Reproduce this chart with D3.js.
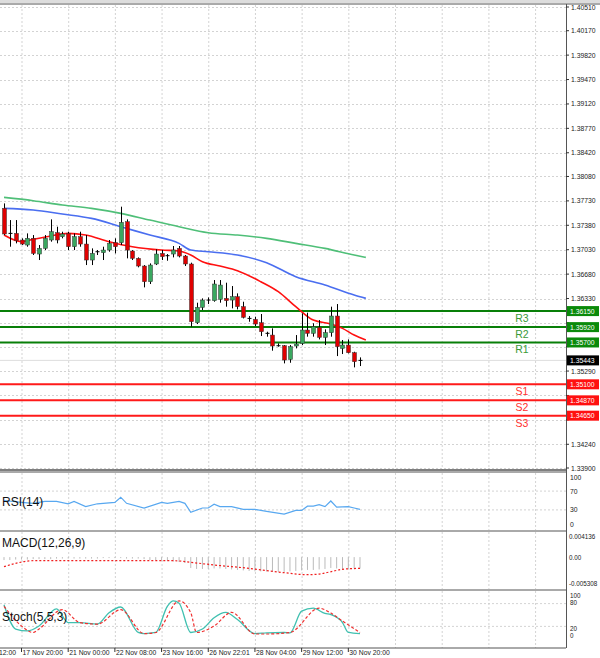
<!DOCTYPE html>
<html><head><meta charset="utf-8">
<script src="https://cdn.jsdelivr.net/npm/d3@7"></script>
<style>body{margin:0;background:#fff}svg{display:block;font-family:"Liberation Sans",Arial,sans-serif}</style>
</head><body>
<svg id="chart" width="600" height="658"></svg>
<script>
// candles: open, high, low, close
const opens  = [1.37623,1.37264,1.37264,1.37169,1.37097,1.37193,1.36968,1.37049,1.37169,1.37274,1.37216,1.37264,1.37073,1.37216,1.37111,1.36882,1.37001,1.36987,1.37025,1.37130,1.37130,1.37431,1.37011,1.36906,1.36796,1.36571,1.36825,1.36977,1.36939,1.36968,1.37049,1.36939,1.36825,1.35983,1.36203,1.36299,1.36299,1.36318,1.36332,1.36308,1.36356,1.36213,1.36045,1.36031,1.35983,1.35831,1.35806,1.35653,1.35653,1.35457,1.35649,1.35687,1.35878,1.35831,1.35916,1.35773,1.35840,1.36079,1.35615,1.35663,1.35553,1.35433];
const highs  = [1.37694,1.37455,1.37455,1.37193,1.37264,1.37240,1.37097,1.37240,1.37465,1.37360,1.37288,1.37288,1.37264,1.37288,1.37240,1.37049,1.37025,1.37073,1.37169,1.37193,1.37647,1.37465,1.37025,1.36920,1.36810,1.36834,1.37035,1.37025,1.36968,1.37083,1.37083,1.36954,1.36844,1.36270,1.36332,1.36346,1.36595,1.36595,1.36557,1.36509,1.36404,1.36284,1.36079,1.36069,1.36108,1.35854,1.35902,1.35687,1.35663,1.35663,1.35806,1.36117,1.36127,1.35975,1.36021,1.35888,1.36213,1.36251,1.35735,1.35744,1.35567,1.35486];
const lows   = [1.37240,1.37073,1.37121,1.37097,1.37073,1.36954,1.36882,1.37025,1.37145,1.37121,1.37193,1.37025,1.37025,1.37073,1.36810,1.36810,1.36954,1.36882,1.37001,1.36977,1.37097,1.36906,1.36882,1.36777,1.36490,1.36538,1.36810,1.36882,1.36872,1.36920,1.36920,1.36796,1.35926,1.35964,1.36165,1.36251,1.36284,1.36270,1.36213,1.36189,1.36174,1.36045,1.35997,1.35935,1.35792,1.35783,1.35582,1.35639,1.35400,1.35409,1.35615,1.35663,1.35783,1.35783,1.35744,1.35663,1.35783,1.35505,1.35534,1.35543,1.35343,1.35362];
const closes = [1.37255,1.37255,1.37159,1.37111,1.37193,1.36977,1.37049,1.37193,1.37288,1.37169,1.37255,1.37073,1.37216,1.37111,1.36882,1.36977,1.36995,1.37025,1.37121,1.37073,1.37422,1.37025,1.36906,1.36796,1.36571,1.36810,1.36968,1.36930,1.36944,1.37025,1.36939,1.36825,1.35997,1.36203,1.36308,1.36308,1.36538,1.36523,1.36299,1.36356,1.36213,1.36060,1.36040,1.35964,1.35854,1.35826,1.35649,1.35649,1.35448,1.35639,1.35677,1.35878,1.35831,1.35926,1.35773,1.35840,1.36079,1.35639,1.35663,1.35553,1.35424,1.35443];

// moving averages [candle index, price]
const maRed   = [[0,1.37240],[3,1.37145],[5,1.37178],[8,1.37226],[11,1.37264],[14,1.37240],[18,1.37145],[22,1.37073],[27,1.37025],[30,1.37011],[32,1.36954],[34,1.36858],[37,1.36796],[40,1.36729],[44,1.36571],[47,1.36428],[50,1.36213],[53,1.36021],[56,1.35964],[58,1.35902],[60,1.35806],[62,1.35735]];
const maBlue  = [[0,1.37623],[5,1.37599],[10,1.37541],[15,1.37479],[20,1.37360],[25,1.37240],[30,1.37121],[32,1.37025],[35,1.37001],[40,1.36954],[45,1.36844],[50,1.36643],[55,1.36523],[60,1.36380],[62,1.36332]];
const maGreen = [[0,1.37780],[5,1.37733],[10,1.37670],[15,1.37623],[20,1.37551],[25,1.37455],[30,1.37360],[35,1.37274],[40,1.37240],[45,1.37193],[50,1.37121],[55,1.37049],[60,1.36954],[62,1.36920]];

// pivot levels
const levelNames  = ["R3","R2","R1","S1","S2","S3"];
const levelValues = [1.36150,1.35920,1.35700,1.35100,1.34870,1.34650];
const lastPrice = 1.35443;

const priceTicks = [1.40510,1.40170,1.39820,1.39470,1.39120,1.38770,1.38420,1.38080,1.37730,1.37380,1.37030,1.36680,1.36330,1.35980,1.35640,1.35290,1.34940,1.34590,1.34240,1.33900];

// indicators [candle index, value]
const rsi = [[0,50],[3,46],[5,44],[7,48],[9,48],[11,43],[12,48],[14,37],[16,43],[19,46],[20,57],[21,44],[24,34],[27,46],[28,44],[30,48],[31,44],[32,25],[34,34],[35,34],[36,42],[37,37],[39,37],[41,31],[43,31],[45,27],[48,21],[50,29],[51,29],[52,38],[53,38],[54,41],[55,37],[56,49],[57,36],[59,37],[60,34],[61,31]];
const rsiTicks = [100,70,30,0];

const macdHist = [-0.0006,-0.0006,-0.0005,-0.0005,-0.0005,-0.0004,-0.0004,-0.0004,-0.0004,-0.0003,-0.0003,-0.0003,-0.0003,-0.0003,-0.0003,-0.0003,-0.0003,-0.0002,-0.0002,-0.0002,-0.0002,-0.0003,-0.0003,-0.0003,-0.0004,-0.0006,-0.0006,-0.0007,-0.0008,-0.0009,-0.0010,-0.0012,-0.0022,-0.0024,-0.0024,-0.0024,-0.0023,-0.0023,-0.0024,-0.0025,-0.0026,-0.0027,-0.0028,-0.0029,-0.0029,-0.0029,-0.0030,-0.0030,-0.0030,-0.0029,-0.0028,-0.0027,-0.0026,-0.0026,-0.0025,-0.0024,-0.0022,-0.0023,-0.0024,-0.0024,-0.0023,-0.0023];
const macdSignal = [[0,-0.00194],[2,-0.00126],[5,-0.00073],[19,-0.00073],[29,-0.00073],[32,-0.00106],[36,-0.0016],[42,-0.00228],[48,-0.00316],[52,-0.00357],[54,-0.00343],[56,-0.00296],[58,-0.00247],[61,-0.00228]];
const macdTicks = ["0.004136","0.00","-0.005308"];
const macdTickVals = [0.004136,0,-0.005308];

const stochMain = [[0,77],[2,13],[4,8],[6,21],[9,66],[11,30],[13,30],[16,26],[18,56],[20,71],[23,4],[24,1],[26,4],[28,73],[29,87],[30,81],[32,4],[34,13],[36,43],[38,57],[40,38],[43,1],[45,3],[48,4],[49,3],[51,60],[53,68],[55,54],[56,51],[58,30],[59,4],[61,1]];
const stochSignal = [[0,73],[3,21],[5,4],[6,13],[10,64],[13,30],[16,26],[20,64],[24,1],[26,4],[30,87],[32,56],[33,4],[36,21],[39,57],[43,0],[45,0],[49,4],[54,68],[56,55],[58,34],[61,4]];
const stochTicks = [100,80,20,0];

const timeLabels = ["12:00","17 Nov 20:00","21 Nov 00:00","22 Nov 08:00","23 Nov 16:00","26 Nov 22:01","28 Nov 04:00","29 Nov 12:00","30 Nov 20:00"];

// ---- layout ----
const svg = d3.select("#chart");
const W = 566;
const main = {top: 5, bottom: 470};
const pRsi = {top: 473, bottom: 530};
const pMacd = {top: 532, bottom: 589};
const pSto = {top: 591, bottom: 648};

const x = d3.scaleLinear().domain([0, 61]).range([4, 360]);
const y = d3.scaleLinear().domain([1.33900, 1.40510]).range([468, 7]);
const yRsi = d3.scaleLinear().domain([0, 100]).range([524, 477]);
const yMacd = d3.scaleLinear().domain([-0.005308, 0.004136]).range([583.3, 536.7]);
const ySto = d3.scaleLinear().domain([0, 100]).range([634, 596]);

const grid = svg.append("g").attr("stroke", "#c8c8c8").attr("stroke-dasharray", "2,2").attr("stroke-width", 0.8);
// vertical grid every 8 candles
const gridIdx = d3.range(-5, 100, 8).filter(i => x(i) > 0 && x(i) < W);
[main, pRsi, pMacd, pSto].forEach(p => {
  gridIdx.forEach(i => grid.append("line").attr("x1", x(i) + 0.5).attr("x2", x(i) + 0.5).attr("y1", p.top).attr("y2", p.bottom));
});
priceTicks.forEach(t => grid.append("line").attr("x1", 0).attr("x2", W).attr("y1", Math.round(y(t)) + 0.5).attr("y2", Math.round(y(t)) + 0.5));
[70, 30].forEach(t => grid.append("line").attr("x1", 0).attr("x2", W).attr("y1", yRsi(t)).attr("y2", yRsi(t)));
[80, 20].forEach(t => grid.append("line").attr("x1", 0).attr("x2", W).attr("y1", ySto(t)).attr("y2", ySto(t)));

// last price line
svg.append("line").attr("x1", 0).attr("x2", W).attr("y1", y(lastPrice)).attr("y2", y(lastPrice)).attr("stroke", "#ddd").attr("stroke-width", 1);

// levels
const lvl = svg.append("g");
levelValues.forEach((v, i) => {
  const res = levelNames[i][0] === "R";
  lvl.append("line").attr("x1", 0).attr("x2", W).attr("y1", y(v)).attr("y2", y(v))
    .attr("stroke", res ? "#087f08" : "#ff1a1a").attr("stroke-width", 2);
  lvl.append("text").attr("x", 522).attr("y", y(v) + 11).attr("text-anchor", "middle")
    .attr("font-size", 10.5).attr("fill", res ? "#3a9a3a" : "#ff3030").text(levelNames[i]);
});

// moving averages
const line = d3.line().x(d => x(d[0])).y(d => y(d[1])).curve(d3.curveMonotoneX);
[[maGreen, "#4fbf78"], [maBlue, "#4a6ef0"], [maRed, "#ff1010"]].forEach(([d, c]) => {
  svg.append("path").attr("d", line(d)).attr("fill", "none").attr("stroke", c).attr("stroke-width", 1.6);
});

// candles
const cg = svg.append("g");
opens.forEach((o, i) => {
  const c = closes[i], cx = Math.round(x(i)) + 0.5;
  cg.append("line").attr("x1", cx).attr("x2", cx).attr("y1", y(highs[i])).attr("y2", y(lows[i])).attr("stroke", "#000").attr("stroke-width", 1);
  const top = y(Math.max(o, c)), bot = y(Math.min(o, c));
  if (bot - top < 1.2) {
    cg.append("line").attr("x1", cx - 2).attr("x2", cx + 2).attr("y1", top).attr("y2", top).attr("stroke", "#000");
  } else {
    cg.append("rect").attr("x", cx - 2).attr("y", top).attr("width", 4).attr("height", bot - top)
      .attr("fill", c >= o ? "#3aa860" : "#e00000").attr("stroke", "#333").attr("stroke-width", 0.5);
  }
});

// RSI
svg.append("path").attr("d", d3.line().x(d => x(d[0])).y(d => yRsi(d[1]))(rsi)).attr("fill", "none").attr("stroke", "#58a8f0").attr("stroke-width", 1.2);
// MACD
macdHist.forEach((v, i) => svg.append("line").attr("x1", x(i)).attr("x2", x(i)).attr("y1", yMacd(0)).attr("y2", yMacd(v)).attr("stroke", "#bbb").attr("stroke-width", 1));
svg.append("path").attr("d", d3.line().x(d => x(d[0])).y(d => yMacd(d[1])).curve(d3.curveMonotoneX)(macdSignal)).attr("fill", "none").attr("stroke", "#f02020").attr("stroke-dasharray", "2,2").attr("stroke-width", 1.2);
// Stoch
const sLine = d3.line().x(d => x(d[0])).y(d => ySto(d[1])).curve(d3.curveMonotoneX);
svg.append("path").attr("d", sLine(stochMain)).attr("fill", "none").attr("stroke", "#40c0b0").attr("stroke-width", 1.3);
svg.append("path").attr("d", sLine(stochSignal)).attr("fill", "none").attr("stroke", "#f03030").attr("stroke-dasharray", "3,2").attr("stroke-width", 1.2);

// panel frames
const fr = svg.append("g").attr("stroke", "#555").attr("fill", "none");
fr.append("line").attr("x1", 0).attr("x2", 600).attr("y1", 4).attr("y2", 4).attr("stroke-width", 1);
[470, 472, 531, 590, 648].forEach(v => fr.append("line").attr("x1", 0).attr("x2", 566).attr("y1", v).attr("y2", v).attr("stroke-width", v === 470 ? 1.5 : 1));
fr.append("line").attr("x1", 566.5).attr("x2", 566.5).attr("y1", 4).attr("y2", 648);
svg.append("rect").attr("x", 0).attr("y", 0).attr("width", 600).attr("height", 3).attr("fill", "#ddd");

// price axis (labels under a level box are hidden by it, as in the terminal)
const ax = svg.append("g").attr("font-size", 6.8).attr("fill", "#222");
const boxVals = levelValues.concat([lastPrice]);
priceTicks.forEach(t => {
  ax.append("line").attr("x1", 566).attr("x2", 569).attr("y1", y(t)).attr("y2", y(t)).attr("stroke", "#333");
  if (boxVals.some(b => Math.abs(y(b) - y(t)) < 8)) return;
  ax.append("text").attr("x", 571).attr("y", y(t) + 2.5).text(t.toFixed(5));
});
const boxes = levelValues.map((v, i) => ({v, c: levelNames[i][0] === "R" ? "#0a8a0a" : "#ff1010"})).concat([{v: lastPrice, c: "#000"}]);
boxes.forEach(b => {
  ax.append("rect").attr("x", 567).attr("y", y(b.v) - 5).attr("width", 32).attr("height", 10).attr("fill", b.c);
  ax.append("text").attr("x", 570).attr("y", y(b.v) + 2.5).attr("fill", "#fff").text(b.v.toFixed(5));
});

// sub-panel axes
rsiTicks.forEach(t => ax.append("text").attr("x", 570).attr("y", yRsi(t) + 2.5).text(t));
macdTickVals.forEach((t, i) => ax.append("text").attr("x", 569).attr("y", yMacd(t) + 2.5).attr("font-size", 6.3).text(macdTicks[i]));
stochTicks.forEach(t => ax.append("text").attr("x", 570).attr("y", ({100: 596, 80: 603, 20: 629, 0: 636})[t] + 2).attr("font-size", 6.3).text(t));

// panel titles
const tt = svg.append("g").attr("font-size", 12).attr("fill", "#111");
tt.append("text").attr("x", 2).attr("y", 506).text("RSI(14)");
tt.append("text").attr("x", 2).attr("y", 547).text("MACD(12,26,9)");
tt.append("text").attr("x", 2).attr("y", 621).text("Stoch(5,5,3)");

// time axis
const tg = svg.append("g").attr("font-size", 6.8).attr("fill", "#222");
timeLabels.forEach((s, k) => {
  const i = -5 + 8 * k, px = x(i);
  tg.append("line").attr("x1", px).attr("x2", px).attr("y1", 648).attr("y2", 652).attr("stroke", "#333");
  tg.append("text").attr("x", k === 0 ? 16 : px + 1).attr("y", 655).attr("text-anchor", k === 0 ? "end" : "start").text(s);
});
</script>
</body></html>
